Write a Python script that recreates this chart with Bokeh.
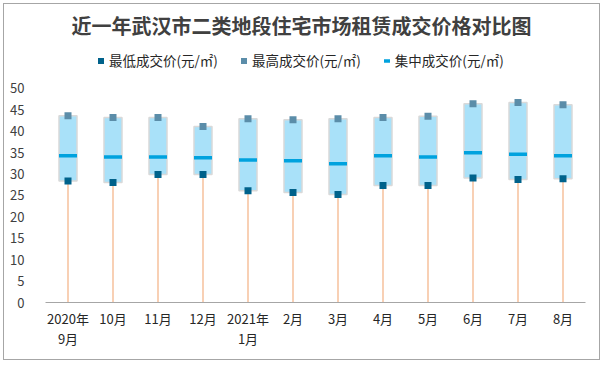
from bokeh.plotting import figure
from bokeh.models import FactorRange, Range1d, Label, Legend, LegendItem, FixedTicker, ColumnDataSource
from bokeh.embed import file_html
from bokeh.resources import INLINE

months = ["2020年\n9月", "10月", "11月", "12月", "2021年\n1月", "2月",
          "3月", "4月", "5月", "6月", "7月", "8月"]
low = [28.4, 28.0, 29.9, 29.9, 26.1, 25.7, 25.2, 27.3, 27.3, 29.1, 28.7, 28.9]
high = [43.6, 43.2, 43.2, 41.1, 42.9, 42.7, 42.9, 43.2, 43.5, 46.4, 46.7, 46.2]
mid = [34.3, 34.0, 34.0, 33.8, 33.3, 33.1, 32.4, 34.3, 34.0, 35.0, 34.6, 34.3]
base = [0] * len(months)
y_ticks = [0, 5, 10, 15, 20, 25, 30, 35, 40, 45, 50]

title_text = "近一年武汉市二类地段住宅市场租赁成交价格对比图"
leg_low = "最低成交价(元/㎡)"
leg_high = "最高成交价(元/㎡)"
leg_mid = "集中成交价(元/㎡)"

FONT = "Noto Sans CJK SC"

src = ColumnDataSource(dict(m=months, low=low, high=high, mid=mid, base=base))

# frame spans the full height above the x axis so that title and legend are not clipped;
# value 50 stays at the same place as in the reference (ticks stop at 50)
p = figure(width=597, height=357, x_range=FactorRange(*months, range_padding=0),
           y_range=Range1d(0, 69.6), output_backend="svg", toolbar_location=None,
           min_border_left=41, min_border_right=16, min_border_top=0, min_border_bottom=59)
p.styles = {"border": "1px solid #A6A6A6", "box-sizing": "border-box",
            "margin-left": "3px", "margin-top": "3px"}

p.segment(x0="m", y0="base", x1="m", y1="low", source=src, line_color="#F4B183", line_width=1.2)
p.vbar(x="m", bottom="low", top="high", width=0.4, source=src,
       fill_color="#A9E1F9", line_color="#D9D9D9", line_width=1.5)
r_mid = p.scatter(x="m", y="mid", source=src, marker="dash", size=18,
                  line_color="#00A2DE", line_width=3.5)
r_low = p.scatter(x="m", y="low", source=src, marker="square", size=7,
                  fill_color="#00628B", line_color=None)
r_high = p.scatter(x="m", y="high", source=src, marker="square", size=7,
                   fill_color="#5B8DA9", line_color=None)

p.xgrid.grid_line_color = None
p.ygrid.grid_line_color = None
p.outline_line_color = None
p.background_fill_color = "white"
p.border_fill_color = "white"

xa = p.xaxis[0]
xa.axis_line_color = "#A6A6A6"
xa.axis_line_width = 1
xa.major_tick_line_color = None
xa.minor_tick_line_color = None
xa.major_label_text_font = FONT
xa.major_label_text_font_size = "13px"
xa.major_label_text_color = "#262626"
xa.major_label_standoff = 0
xa.major_label_text_line_height = 1.1

ya = p.yaxis[0]
ya.ticker = FixedTicker(ticks=y_ticks)
ya.axis_line_color = None
ya.major_tick_line_color = None
ya.minor_tick_line_color = None
ya.major_label_text_font = FONT
ya.major_label_text_font_size = "13px"
ya.major_label_text_color = "#404040"
ya.major_label_standoff = 15

title = Label(x=256, y=277, x_units="screen", y_units="screen", text=title_text,
              text_font=FONT, text_font_size="20px", text_font_style="bold",
              text_color="#404040", text_align="center", text_baseline="middle")
p.add_layout(title)

legend = Legend(items=[LegendItem(label=leg_low, renderers=[r_low]),
                       LegendItem(label=leg_high, renderers=[r_high]),
                       LegendItem(label=leg_mid, renderers=[r_mid])],
                orientation="horizontal", location=(48, 232),
                glyph_width=15, glyph_height=15, label_standoff=1, spacing=18,
                padding=0, margin=0, border_line_color=None, background_fill_alpha=0,
                label_text_font=FONT, label_text_font_size="13.5px", label_text_color="#262626",
                label_height=15)
p.add_layout(legend, "center")

open("out.html", "w").write(file_html(p, INLINE))
